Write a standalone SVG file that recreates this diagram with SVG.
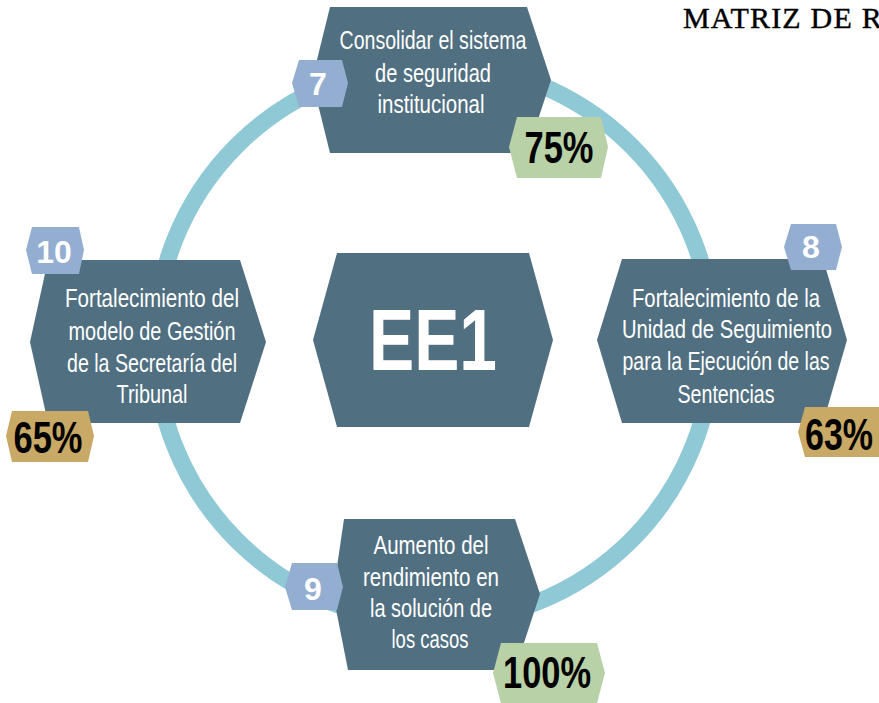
<svg xmlns="http://www.w3.org/2000/svg" width="879" height="703" viewBox="0 0 879 703">
<style>
.hex{fill:#506f80}
.num{fill:#93aed1}
.green{fill:#b9d1a6}
.tan{fill:#c8a965}
.lbl{font-family:"Liberation Sans",Arial,sans-serif;font-size:26px;fill:#ffffff;text-anchor:middle}
.n{font-family:"Liberation Sans",Arial,sans-serif;font-size:32px;font-weight:bold;fill:#ffffff;text-anchor:middle}
.pct{font-family:"Liberation Sans",Arial,sans-serif;font-size:44px;font-weight:bold;fill:#000000;text-anchor:middle}
.ring{fill:none;stroke:#8fc9d6;stroke-width:17}
</style>
<rect width="879" height="703" fill="#ffffff"/>
<text x="683" y="28" font-family="'Liberation Serif','Times New Roman',serif" font-size="30" letter-spacing="1.2" fill="#000000" stroke="#000000" stroke-width="0.4">MATRIZ DE RE</text>
<g id="connectors">
<circle class="ring" cx="434" cy="343" r="279"/>
</g>
<g id="node-ee1">
<polygon class="hex" points="337,253 529,253 553,340 529,427 337,427 313,340"/>
<text x="433" y="370" font-family="'Liberation Sans',Arial,sans-serif" font-size="88" font-weight="bold" fill="#ffffff" text-anchor="middle" textLength="128" lengthAdjust="spacingAndGlyphs">EE1</text>
</g>
<g id="node-7">
<polygon class="hex" points="330,7 527,7 551,80 527,153 330,153 312,80"/>
<text class="lbl" x="433" y="49" textLength="187" lengthAdjust="spacingAndGlyphs">Consolidar el sistema</text>
<text class="lbl" x="433" y="82" textLength="116" lengthAdjust="spacingAndGlyphs">de seguridad</text>
<text class="lbl" x="431" y="113" textLength="107" lengthAdjust="spacingAndGlyphs">institucional</text>
<polygon class="num" points="299,60 342,60 348,83 342,107 299,107 292,83"/>
<text class="n" x="318" y="95">7</text>
<polygon class="green" points="517,117 601,117 608,147 601,178 517,178 509,147"/>
<text class="pct" x="559" y="163" textLength="69" lengthAdjust="spacingAndGlyphs">75%</text>
</g>
<g id="node-8">
<polygon class="hex" points="622,259 823,259 847,340 823,423 622,423 597,340"/>
<text class="lbl" x="726" y="307" textLength="188" lengthAdjust="spacingAndGlyphs">Fortalecimiento de la</text>
<text class="lbl" x="727" y="338" textLength="210" lengthAdjust="spacingAndGlyphs">Unidad de Seguimiento</text>
<text class="lbl" x="726" y="370" textLength="207" lengthAdjust="spacingAndGlyphs">para la Ejecución de las</text>
<text class="lbl" x="726" y="403" textLength="97" lengthAdjust="spacingAndGlyphs">Sentencias</text>
<polygon class="num" points="791,224 836,224 842,247 836,270 791,270 784,247"/>
<text class="n" x="811" y="258">8</text>
<polygon class="tan" points="805,407 885,407 892,432 885,457 805,457 798,432"/>
<text class="pct" x="839" y="450" textLength="68" lengthAdjust="spacingAndGlyphs">63%</text>
</g>
<g id="node-9">
<polygon class="hex" points="344,519 515,519 540,594 515,670 348,670 333,594"/>
<text class="lbl" x="431" y="554" textLength="115" lengthAdjust="spacingAndGlyphs">Aumento del</text>
<text class="lbl" x="431" y="586" textLength="136" lengthAdjust="spacingAndGlyphs">rendimiento en</text>
<text class="lbl" x="431" y="617" textLength="122" lengthAdjust="spacingAndGlyphs">la solución de</text>
<text class="lbl" x="430" y="648" textLength="77" lengthAdjust="spacingAndGlyphs">los casos</text>
<polygon class="num" points="292,563 337,563 343,587 337,610 292,610 285,587"/>
<text class="n" x="313" y="600">9</text>
<polygon class="green" points="501,643 597,643 605,673 597,703 501,703 493,673"/>
<text class="pct" x="547" y="688" textLength="88" lengthAdjust="spacingAndGlyphs">100%</text>
</g>
<g id="node-10">
<polygon class="hex" points="48,260 240,260 266,342 240,423 48,423 30,342"/>
<text class="lbl" x="152" y="307" textLength="174" lengthAdjust="spacingAndGlyphs">Fortalecimiento del</text>
<text class="lbl" x="152" y="340" textLength="167" lengthAdjust="spacingAndGlyphs">modelo de Gestión</text>
<text class="lbl" x="152" y="372" textLength="170" lengthAdjust="spacingAndGlyphs">de la Secretaría del</text>
<text class="lbl" x="152" y="403" textLength="71" lengthAdjust="spacingAndGlyphs">Tribunal</text>
<polygon class="num" points="32,227 79,227 84,250 79,274 32,274 26,250"/>
<text class="n" x="54" y="263">10</text>
<polygon class="tan" points="12,411 88,411 94,436 88,462 12,462 6,436"/>
<text class="pct" x="48" y="453" textLength="69" lengthAdjust="spacingAndGlyphs">65%</text>
</g>
</svg>
